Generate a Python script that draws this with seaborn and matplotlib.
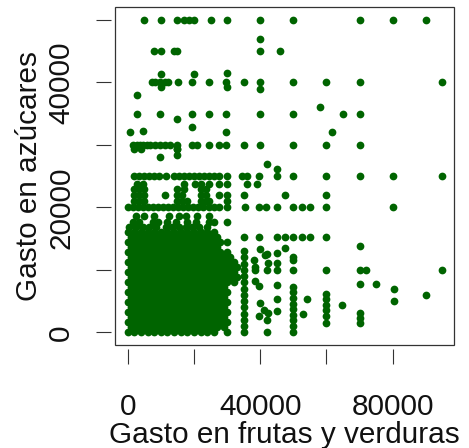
import matplotlib
matplotlib.use("Agg")
import matplotlib.pyplot as plt
from matplotlib.patches import Rectangle
import pandas as pd
import seaborn as sns

# Nivel de gasto en azúcares de cada fila de hogares (zona densa)
azucar_filas = [0, 800, 1600, 2400, 3200, 4000, 4800, 5600, 6400, 7200, 8000,
                8800, 9600, 10400, 11200, 12000, 12800, 13600, 14400, 15200, 16000]

# Gasto en frutas y verduras de los hogares de cada fila
frutas_filas = [
    [200, 2000, 4000, 6000, 8000, 10000, 12000, 14000, 16000, 18000, 20000, 22000, 24000, 26000, 30000, 42000, 50000],
    [1000, 3000, 5000, 7000, 9000, 11000, 13000, 15000, 17000, 19000, 21000, 23000, 25000, 27000, 29000],
    [200, 2000, 4000, 6000, 8000, 10000, 12000, 14000, 16000, 18000, 20000, 22000, 24000, 26000, 28000, 30000],
    [1000, 3000, 5000, 7000, 9000, 11000, 13000, 15000, 17000, 19000, 21000, 23000, 25000, 27000, 29000],
    [200, 2000, 4000, 6000, 8000, 10000, 12000, 14000, 16000, 18000, 20000, 22000, 24000, 26000, 28000, 30000],
    [1000, 3000, 5000, 7000, 9000, 11000, 13000, 15000, 17000, 19000, 21000, 23000, 25000, 27000, 29000],
    [200, 2000, 4000, 6000, 8000, 10000, 12000, 14000, 16000, 18000, 20000, 22000, 24000, 26000, 28000, 30000],
    [1000, 3000, 5000, 7000, 9000, 11000, 13000, 15000, 17000, 19000, 21000, 23000, 25000, 27000, 29000],
    [200, 2000, 4000, 6000, 8000, 10000, 12000, 14000, 16000, 18000, 20000, 22000, 24000, 26000, 28000, 30000],
    [1000, 3000, 5000, 7000, 9000, 11000, 13000, 15000, 17000, 19000, 21000, 23000, 25000, 27000, 29000],
    [200, 2000, 4000, 6000, 8000, 10000, 12000, 14000, 16000, 18000, 20000, 22000, 24000, 26000, 28000, 30000, 32000],
    [1000, 3000, 5000, 7000, 9000, 11000, 13000, 15000, 17000, 19000, 21000, 23000, 25000, 27000, 29000, 31000, 33000],
    [200, 2000, 4000, 6000, 8000, 10000, 12000, 14000, 16000, 18000, 20000, 22000, 24000, 26000, 28000, 30000, 32000],
    [1000, 3000, 5000, 7000, 9000, 11000, 13000, 15000, 17000, 19000, 21000, 23000, 25000, 27000, 29000, 31000, 33000],
    [200, 2000, 4000, 6000, 8000, 10000, 12000, 14000, 16000, 18000, 20000, 22000, 24000, 26000, 28000, 30000, 32000],
    [1000, 3000, 5000, 7000, 9000, 11000, 13000, 15000, 17000, 19000, 21000, 23000, 25000, 27000, 29000, 31000],
    [200, 2000, 4000, 6000, 8000, 10000, 12000, 14000, 16000, 18000, 20000, 22000, 24000, 26000, 28000, 30000],
    [1000, 3000, 5000, 7000, 9000, 11000, 13000, 15000, 17000, 19000, 21000, 23000, 25000, 27000],
    [200, 2000, 4000, 6000, 8000, 10000, 12000, 14000, 16000, 18000, 20000, 22000, 24000, 26000, 28000, 30000],
    [1000, 3000, 5000, 7000, 9000, 11000, 13000, 15000, 17000, 19000, 21000, 23000, 25000, 27000],
    [200, 2000, 4000, 6000, 8000, 10000, 12000, 14000, 16000, 18000, 20000, 22000, 24000, 26000],
]

# Filas de gasto redondeado por encima del bloque denso
azucar_redondo = [16800, 17700, 18600, 20000, 21000, 22000, 23000, 23800, 25000,
                  30000, 35000, 40000, 45000, 50000]
frutas_redondo = [
    [500, 2500, 4500, 6500, 8500, 11500, 13500, 15500, 17500, 19500, 21500, 24000],
    [1500, 3500, 7500, 9000, 12000, 14500, 18000, 20500, 24400, 26000, 30000],
    [2500, 5000, 8000, 12500, 15500, 17500, 21000, 24400],
    [200, 1700, 3200, 4700, 6200, 7700, 9200, 10700, 12200, 13700, 15200, 16700, 18200,
     19700, 21200, 22700, 24400, 26000, 27500, 30000, 35500, 39600, 41600, 45200,
     50000, 52500, 55000, 60000, 80000],
    [2000, 3500, 5000, 15000, 16500, 18000, 22000, 23500, 24400, 30000],
    [2000, 3500, 5000, 11300, 15000, 16500, 22000, 23500, 27500, 30000, 35000, 47500, 60000],
    [2000, 3500, 5000, 15000, 17000, 22000, 23500],
    [2700, 4500, 17000, 20300, 22000, 24400, 27500, 30000, 36000, 39000],
    [2000, 3500, 5000, 6500, 8000, 9500, 11500, 14000, 15500, 17000, 18500, 20000, 21500,
     23000, 24500, 26000, 27500, 30000, 34500, 36000, 39600, 45000, 50000, 60000, 70000,
     80000, 95000],
    [1700, 2700, 3700, 4700, 5800, 6800, 8300, 9800, 11300, 12800, 14800, 19400, 20900,
     24600, 27500, 29700, 35000, 40000, 50000, 60000, 70000],
    [2700, 9800, 19400, 24600, 29700, 40000, 50000, 65000, 70000],
    [7300, 8300, 9800, 11300, 12300, 15300, 19400, 24600, 29700, 35000, 40000, 50000,
     60000, 70000, 95000],
    [8000, 10000, 14000, 15000, 40000, 46000],
    [5000, 10000, 15000, 17000, 18500, 20000, 25000, 30000, 40000, 50000, 70000, 80000, 90000],
]

# Hogares sueltos
frutas_sueltos = [
    35000, 35000, 35000, 35000, 35000, 35000, 35000, 35000, 35000, 35000, 35000, 35000, 35000, 35000,
    35000, 39600, 45000, 47500, 50000, 52700, 55000, 60000,
    45000, 45000, 45000, 45000, 45000, 45000,
    50000, 50000, 50000, 50000, 50000, 50000, 50000, 50000, 50000, 50000, 50000,
    38500, 38500, 38500, 38000, 41500, 42500, 42000, 39500, 40000, 41000, 42500, 42000,
    39500, 40000, 42000, 47600,
    54000, 53000,
    60000, 60000, 60000, 60000, 60000, 60000, 60000, 64800,
    70000, 70000, 70000, 70000, 70000, 70000, 72000, 75000, 80500, 80500, 90000, 95000,
    42000, 45000, 9800, 14800, 14800, 2000, 4000, 14800,
    700, 4700, 29700, 61800, 19400, 14800, 58000, 2700,
    10000, 40000, 10000, 20000, 40000, 30000, 30000,
]
azucar_sueltos = [
    0, 1000, 2000, 3000, 4000, 5000, 6000, 7000, 8000, 9000, 10000, 11000, 12000, 13000,
    15300, 15300, 15300, 15300, 15300, 15300, 15300, 15300,
    12700, 11100, 10000, 7600, 5400, 3400,
    12100, 11500, 10000, 7300, 6400, 5500, 4600, 3700, 2800, 1900, 1000,
    10500, 10000, 8200, 11600, 12400, 11100, 10000, 7400, 4700, 3600, 3100, 2000,
    2600, 13300, 12600, 13500,
    5400, 2900,
    10000, 6200, 5300, 4400, 3500, 2600, 1500, 4400,
    13800, 10000, 7800, 3100, 2300, 1500, 10000, 7800, 7000, 5000, 6000, 10000,
    26900, 26200, 28100, 29400, 28400, 29400, 29400, 29400,
    32000, 32300, 32100, 32000, 32900, 34100, 36000, 38000,
    39200, 39000, 41400, 41300, 47000, 41500, 39200,
]

registros = []
for nivel, fila in zip(azucar_filas + azucar_redondo, frutas_filas + frutas_redondo):
    registros += [(x, nivel) for x in fila]
registros += list(zip(frutas_sueltos, azucar_sueltos))
datos = pd.DataFrame(registros, columns=["frutas", "azucares"])

sns.set_style("white")
plt.rcParams["font.family"] = ["Liberation Sans", "DejaVu Sans"]

fig = plt.figure(figsize=(4.69, 4.48), dpi=100)
ax = fig.add_axes([115 / 469, 103 / 448, 339 / 469, 338 / 448])

sns.scatterplot(data=datos, x="frutas", y="azucares", color="#006400", s=31,
                linewidth=0, legend=False, ax=ax)

ax.set_xlim(-3830, 98500)
ax.set_ylim(-2030, 52080)

ax.set_xticks([0, 20000, 40000, 60000, 80000])
ax.set_xticklabels(["0", "", "40000", "", "80000"])
ax.set_yticks([0, 10000, 20000, 30000, 40000, 50000])
ax.set_yticklabels(["0", "", "20000", "", "40000", ""])

for lado in ["left", "bottom"]:
    ax.spines[lado].set_position(("outward", 3))
for lado in ax.spines:
    ax.spines[lado].set_visible(False)
ax.add_patch(Rectangle((0, 0), 1, 1, transform=ax.transAxes, fill=False,
                       edgecolor="#333333", linewidth=0.9, clip_on=False, zorder=5))

ax.tick_params(axis="both", direction="out", length=10.8, width=0.8,
               color="#333333", labelsize=21.4, labelcolor="#111111",
               bottom=True, left=True)
ax.tick_params(axis="x", pad=20.7)
ax.tick_params(axis="y", pad=14.9, labelrotation=90)
for etiqueta in ax.get_yticklabels():
    etiqueta.set_verticalalignment("center")

ax.set_xlabel("Gasto en frutas y verduras", fontsize=21.4, color="#111111")
ax.set_ylabel("Gasto en azúcares", fontsize=21.4, color="#111111")
ax.xaxis.set_label_coords(0.5, -0.226)
ax.yaxis.set_label_coords(-0.2127, 0.5)

fig.savefig("out.png", dpi=100)
